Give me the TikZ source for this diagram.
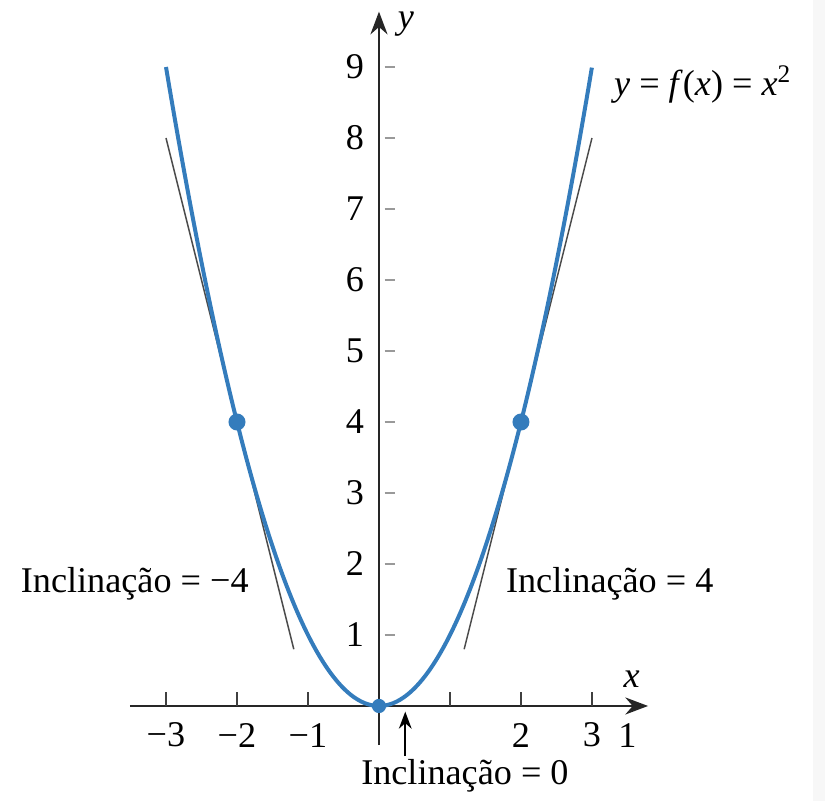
\documentclass[tikz,border=0pt]{standalone}
\usepackage{fontspec}
\setmainfont{Liberation Serif}
\usepackage{tikz}
\usetikzlibrary{arrows.meta, positioning}
\definecolor{curveblue}{RGB}{52,124,188}
\tikzstyle{axis}    = [line width=0.9pt, black!85, -{Stealth[length=3.2mm,width=2.4mm]}]
\tikzstyle{curve}   = [line width=1.6pt, curveblue]
\tikzstyle{tangent} = [line width=0.6pt, black!70]
\tikzstyle{dot}     = [circle, fill=curveblue, inner sep=0pt, minimum size=2.4mm]
\tikzstyle{lbl}     = [font=\fontsize{14.5}{16}\selectfont, inner sep=1pt]
\tikzstyle{arrow}   = [line width=0.7pt, -{Stealth[length=2.4mm,width=1.8mm]}]

\begin{document}
\begin{tikzpicture}[x=1cm, y=1cm]
\useasboundingbox (-5.338,-1.338) rectangle (6.282,9.944);
\fill[gray!6] (6.11,-1.338) rectangle (6.282,9.944);

% axes
\draw [axis] (-3.51,0) -- (3.79,0);
\draw [axis] (0,-0.55) -- (0,9.78);
\node (xlab) [lbl, font=\fontsize{14.5}{16}\selectfont\itshape] at (3.56,0.38) {x};
\node (ylab) [lbl, font=\fontsize{14.5}{16}\selectfont\itshape] at (0.38,9.6) {y};

% x ticks
\foreach \t in {-3,-2,-1,1,2,3}
  \draw [line width=0.8pt, black!75] (\t,0) -- (\t,0.2);
\foreach \t/\s in {-3/−3,-2/−2,-1/−1,2/2,3/3,3.5/1}
  \node (xt\t) [lbl] at (\t,-0.41) {\s};

% y ticks
\foreach \t in {1,...,9} {
  \draw [line width=0.8pt, black!40] (0.08,\t) -- (0.23,\t);
  \node (yt\t) [lbl] at (-0.34,\t) {\t};
}

% tangent lines
\draw [tangent] (-3,8) -- (-1.2,0.8);
\draw [tangent] (1.2,0.8) -- (3,8);

% parabola
\draw [curve] plot[domain=-3:3, samples=121, smooth] (\x,{\x*\x});

\node (pleft)  [dot] at (-2,4) {};
\node (pright) [dot] at (2,4) {};
\node (porig)  [dot, minimum size=2mm] at (0,0) {};

% labels
\node (eq) [lbl, anchor=west] at (3.27,8.75)
  {\textit{y} = \textit{f}(\textit{x}) = \textit{x}\textsuperscript{2}};
\node (incl-l) [lbl] at (-3.44,1.72) {Inclinação = −4};
\node (incl-r) [lbl] at (3.25,1.72) {Inclinação = 4};
\node (incl-0) [lbl] at (1.21,-0.98) {Inclinação = 0};
\coordinate (tip0) at (0.37,-0.08);
\draw [arrow] (incl-0.north -| tip0) -- (tip0);

\end{tikzpicture}
\end{document}
